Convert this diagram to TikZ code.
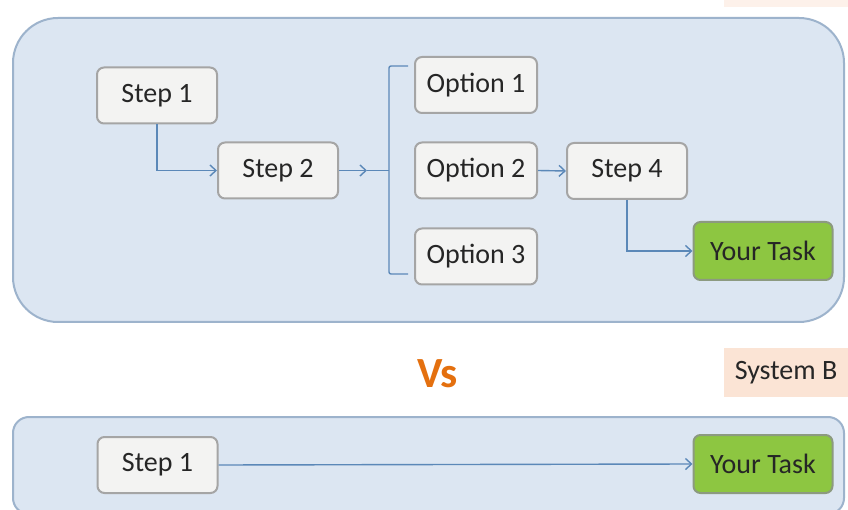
\documentclass[tikz,border=0pt]{standalone}
\usepackage{fontspec}
\setmainfont{Carlito}
\usetikzlibrary{arrows.meta}
\definecolor{panelfill}{HTML}{DCE6F2}
\definecolor{paneledge}{HTML}{9DB3CC}
\definecolor{boxfill}{HTML}{F3F3F2}
\definecolor{boxedge}{HTML}{A5A5A5}
\definecolor{greenfill}{HTML}{8DC641}
\definecolor{greenedge}{HTML}{8C9A80}
\definecolor{linkblue}{HTML}{5B88B8}
\definecolor{vsorange}{HTML}{E4700F}
\definecolor{peach}{HTML}{FBE4D5}
\definecolor{txt}{HTML}{262626}
\tikzset{
  panel/.style={fill=panelfill, draw=paneledge, line width=2pt},
  stepbox/.style={rectangle, rounded corners=7pt, fill=boxfill, draw=boxedge, line width=2pt,
    text=txt, font=\fontsize{28}{32}\selectfont, minimum width=120pt, minimum height=56pt, inner sep=0pt},
  optbox/.style={stepbox, minimum width=122pt, minimum height=56pt},
  taskbox/.style={stepbox, fill=greenfill, draw=greenedge, minimum width=139pt, minimum height=58pt, text=black!85},
  link/.style={draw=linkblue, line width=1.4pt},
  arr/.style={link, -{Straight Barb[length=6pt, width=11pt, line width=1.4pt]}},
}
\begin{document}
\begin{tikzpicture}[x=1pt, y=-1pt]
\useasboundingbox (0,0) rectangle (848,510);
\fill[white] (0,0) rectangle (848,510);
% faint label strip at the top
\fill[peach!50] (724,0) rectangle (848,7);
% panels
\draw[panel, rounded corners=45pt] (13,18) rectangle (844,322);
\draw[panel, rounded corners=16pt] (13,417) rectangle (844,514);
% top flow
\node[stepbox] (s1) at (157,95.5) {Step 1};
\node[stepbox] (s2) at (278,170.5) {Step 2};
\node[optbox] (o1) at (476,85) {Option 1};
\node[optbox] (o2) at (476,170.5) {Option 2};
\node[optbox] (o3) at (476,256.5) {Option 3};
\node[stepbox] (s4) at (627,171) {Step 4};
\node[taskbox] (t1) at (763,251) {Your Task};
\coordinate (ah) at (367,170.5);
\coordinate (bj) at (389,170.5);
\coordinate (bt) at (389,66);
\coordinate (bb) at (389,274);
\coordinate (btt) at (408,66);
\coordinate (bbt) at (408,274);
\draw[arr] (s1.south) |- (s2.west);
\draw[arr] (s2.east) -- (ah);
\draw[link] (ah) -- (bj);
\draw[link, rounded corners=2pt] (btt) -- (bt) -- (bb) -- (bbt);
\draw[arr] (o2.east) -- (s4.west);
\draw[arr] (s4.south) |- (t1.west);
% middle
\node[text=vsorange, font=\fontsize{43}{48}\selectfont\bfseries] (vs) at (437.5,374) {Vs};
\node[fill=peach, text=txt, font=\fontsize{28}{32}\selectfont, minimum width=124pt, minimum height=49pt, inner sep=0pt] (sysb) at (786,372.5) {System B};
% bottom flow
\node[stepbox] (b1) at (157.5,465) {Step 1};
\node[taskbox] (bt1) at (763,464) {Your Task};
\draw[arr] (b1.east) -- (bt1.west);
\end{tikzpicture}
\end{document}
